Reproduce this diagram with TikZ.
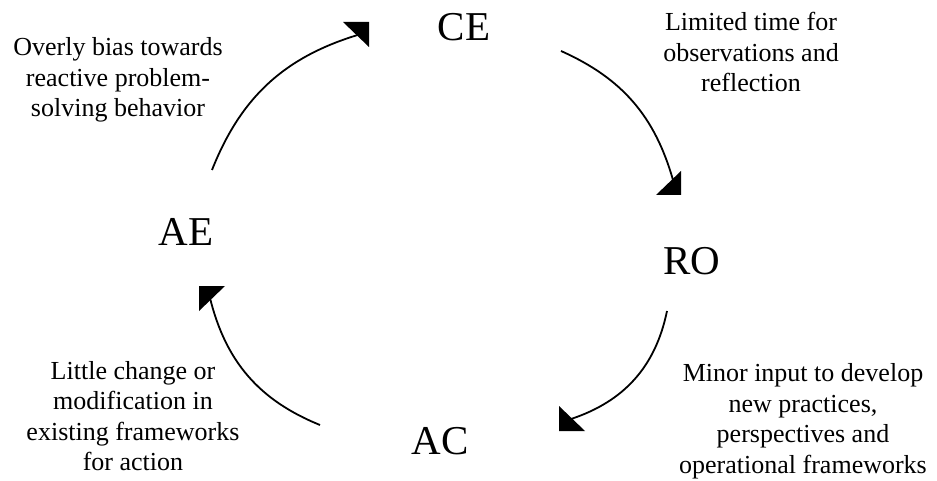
\documentclass[tikz,border=0pt]{standalone}
\usepackage{fontspec}
\setmainfont{Liberation Serif}
\begin{document}
\begin{tikzpicture}[x=1pt,y=-1pt,
  big/.style={inner sep=0pt,font=\fontsize{41}{45}\selectfont},
  note/.style={inner sep=0pt,align=center,font=\fontsize{26}{30.5}\selectfont},
  cyc/.style={line width=1.8pt},
  tip/.style={fill=black}]
\useasboundingbox (0,0) rectangle (937,481);
% main stages
\node[big] (CE) at (464,27.5) {CE};
\node[big] (RO) at (692,261) {RO};
\node[big] (AC) at (440,441.5) {AC};
\node[big] (AE) at (186,232) {AE};
% annotations
\node[note] (n1) at (118,80) {Overly bias towards\\reactive problem-\\solving behavior};
\node[note] (n2) at (751,52) {Limited time for\\observations and\\reflection};
\node[note] (n3) at (803,421) {Minor input to develop\\new practices,\\perspectives and\\operational frameworks};
\node[note] (n4) at (133,416) {Little change or\\modification in\\existing frameworks\\for action};
% arc end points
\coordinate (a1s) at (212,170); \coordinate (a1e) at (361,34);
\coordinate (a2s) at (561,51);  \coordinate (a2e) at (673,180);
\coordinate (a3s) at (667,311); \coordinate (a3e) at (571,419);
\coordinate (a4s) at (320,425); \coordinate (a4e) at (210,298);
% arcs
\draw[cyc] (a1s) to[bend left=26] (a1e);
\draw[cyc] (a2s) to[bend left=25] (a2e);
\draw[cyc] (a3s) to[bend left=30] (a3e);
\draw[cyc] (a4s) to[bend left=27] (a4e);
% arrow tips
\fill[tip] (343,22) -- (369,22) -- (369,47) -- cycle;
\fill[tip] (656,195) -- (681,195) -- (681,171) -- cycle;
\fill[tip] (559,406) -- (559,431) -- (585,431) -- cycle;
\fill[tip] (199,286) -- (225,286) -- (199,311) -- cycle;
\end{tikzpicture}
\end{document}
